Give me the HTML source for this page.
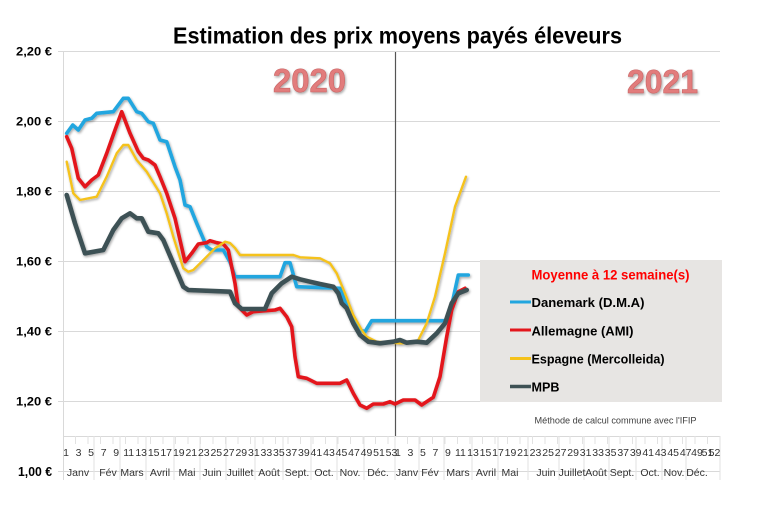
<!DOCTYPE html>
<html>
<head>
<meta charset="utf-8">
<style>
  html, body { margin: 0; padding: 0; background: #ffffff; }
  svg { display: block; }
  text { font-family: "Liberation Sans", sans-serif; }
</style>
</head>
<body>
<svg width="770" height="516" viewBox="0 0 770 516" xmlns="http://www.w3.org/2000/svg">
  <defs>
    <filter id="sh" x="-10%" y="-10%" width="120%" height="130%">
      <feGaussianBlur in="SourceAlpha" stdDeviation="1.2"/>
      <feOffset dx="1" dy="1.5" result="o"/>
      <feComponentTransfer><feFuncA type="linear" slope="0.35"/></feComponentTransfer>
      <feMerge><feMergeNode/><feMergeNode in="SourceGraphic"/></feMerge>
    </filter>
  </defs>
  <rect x="0" y="0" width="770" height="516" fill="#ffffff"/>

  <!-- Title -->
  <text x="173" y="43.5" font-size="23" font-weight="bold" fill="#000" textLength="449" lengthAdjust="spacingAndGlyphs">Estimation des prix moyens payés éleveurs</text>

  <!-- gridlines -->
  <g stroke="#d9d9d9" stroke-width="1">
    <line x1="58" y1="51.5" x2="720" y2="51.5"/>
    <line x1="58" y1="121.5" x2="720" y2="121.5"/>
    <line x1="58" y1="191.5" x2="720" y2="191.5"/>
    <line x1="58" y1="261.5" x2="720" y2="261.5"/>
    <line x1="58" y1="331.5" x2="720" y2="331.5"/>
    <line x1="58" y1="401.5" x2="720" y2="401.5"/>
    <line x1="58" y1="471.5" x2="720" y2="471.5"/>
    <line x1="63.5" y1="51" x2="63.5" y2="480"/>
    <line x1="63" y1="436.5" x2="720" y2="436.5"/>
  </g>

  <!-- axis ticks area -->
  <g stroke="#e2e2e2" stroke-width="1">
    <line x1="75.5" y1="436" x2="75.5" y2="444"/><line x1="88" y1="436" x2="88" y2="444"/>
    <line x1="100.5" y1="436" x2="100.5" y2="444"/><line x1="113" y1="436" x2="113" y2="444"/>
    <line x1="125.5" y1="436" x2="125.5" y2="444"/><line x1="138" y1="436" x2="138" y2="444"/>
    <line x1="150.5" y1="436" x2="150.5" y2="444"/><line x1="163" y1="436" x2="163" y2="444"/>
    <line x1="175.5" y1="436" x2="175.5" y2="444"/><line x1="188" y1="436" x2="188" y2="444"/>
    <line x1="200.5" y1="436" x2="200.5" y2="444"/><line x1="213" y1="436" x2="213" y2="444"/>
    <line x1="225.5" y1="436" x2="225.5" y2="444"/><line x1="238" y1="436" x2="238" y2="444"/>
    <line x1="250.5" y1="436" x2="250.5" y2="444"/><line x1="263" y1="436" x2="263" y2="444"/>
    <line x1="275.5" y1="436" x2="275.5" y2="444"/><line x1="288" y1="436" x2="288" y2="444"/>
    <line x1="300.5" y1="436" x2="300.5" y2="444"/><line x1="313" y1="436" x2="313" y2="444"/>
    <line x1="325.5" y1="436" x2="325.5" y2="444"/><line x1="338" y1="436" x2="338" y2="444"/>
    <line x1="350.5" y1="436" x2="350.5" y2="444"/><line x1="363" y1="436" x2="363" y2="444"/>
    <line x1="375.5" y1="436" x2="375.5" y2="444"/><line x1="388" y1="436" x2="388" y2="444"/>
    <line x1="407.5" y1="436" x2="407.5" y2="444"/><line x1="420" y1="436" x2="420" y2="444"/>
    <line x1="432.5" y1="436" x2="432.5" y2="444"/><line x1="445" y1="436" x2="445" y2="444"/>
    <line x1="457.5" y1="436" x2="457.5" y2="444"/><line x1="470" y1="436" x2="470" y2="444"/>
    <line x1="482.5" y1="436" x2="482.5" y2="444"/><line x1="495" y1="436" x2="495" y2="444"/>
    <line x1="507.5" y1="436" x2="507.5" y2="444"/><line x1="520" y1="436" x2="520" y2="444"/>
    <line x1="532.5" y1="436" x2="532.5" y2="444"/><line x1="545" y1="436" x2="545" y2="444"/>
    <line x1="557.5" y1="436" x2="557.5" y2="444"/><line x1="570" y1="436" x2="570" y2="444"/>
    <line x1="582.5" y1="436" x2="582.5" y2="444"/><line x1="595" y1="436" x2="595" y2="444"/>
    <line x1="607.5" y1="436" x2="607.5" y2="444"/><line x1="620" y1="436" x2="620" y2="444"/>
    <line x1="632.5" y1="436" x2="632.5" y2="444"/><line x1="645" y1="436" x2="645" y2="444"/>
    <line x1="657.5" y1="436" x2="657.5" y2="444"/><line x1="670" y1="436" x2="670" y2="444"/>
    <line x1="682.5" y1="436" x2="682.5" y2="444"/><line x1="695" y1="436" x2="695" y2="444"/>
    <line x1="707.5" y1="436" x2="707.5" y2="444"/>
    <line x1="94" y1="436" x2="94" y2="480"/><line x1="120" y1="436" x2="120" y2="480"/>
    <line x1="146" y1="436" x2="146" y2="480"/><line x1="174" y1="436" x2="174" y2="480"/>
    <line x1="200" y1="436" x2="200" y2="480"/><line x1="226" y1="436" x2="226" y2="480"/>
    <line x1="255" y1="436" x2="255" y2="480"/><line x1="283" y1="436" x2="283" y2="480"/>
    <line x1="311" y1="436" x2="311" y2="480"/><line x1="337" y1="436" x2="337" y2="480"/>
    <line x1="364" y1="436" x2="364" y2="480"/><line x1="395" y1="436" x2="395" y2="480"/>
    <line x1="419" y1="436" x2="419" y2="480"/><line x1="444" y1="436" x2="444" y2="480"/>
    <line x1="472" y1="436" x2="472" y2="480"/><line x1="498" y1="436" x2="498" y2="480"/>
    <line x1="528" y1="436" x2="528" y2="480"/><line x1="559" y1="436" x2="559" y2="480"/>
    <line x1="584" y1="436" x2="584" y2="480"/><line x1="609" y1="436" x2="609" y2="480"/>
    <line x1="636" y1="436" x2="636" y2="480"/><line x1="662" y1="436" x2="662" y2="480"/>
    <line x1="686" y1="436" x2="686" y2="480"/><line x1="720" y1="436" x2="720" y2="480"/>
  </g>

  <!-- Y labels -->
  <g font-size="12" font-weight="bold" fill="#000">
    <text x="16" y="55.5" textLength="36" lengthAdjust="spacingAndGlyphs">2,20 €</text>
    <text x="16" y="125.5" textLength="36" lengthAdjust="spacingAndGlyphs">2,00 €</text>
    <text x="16" y="195.5" textLength="36" lengthAdjust="spacingAndGlyphs">1,80 €</text>
    <text x="16" y="265.5" textLength="36" lengthAdjust="spacingAndGlyphs">1,60 €</text>
    <text x="16" y="335.5" textLength="36" lengthAdjust="spacingAndGlyphs">1,40 €</text>
    <text x="16" y="405.5" textLength="36" lengthAdjust="spacingAndGlyphs">1,20 €</text>
    <text x="18" y="476" font-size="13" textLength="34" lengthAdjust="spacingAndGlyphs">1,00 €</text>
  </g>

  <!-- Week labels -->
  <g font-size="10.5" fill="#333" text-anchor="middle">
    <text x="66.1" y="456">1</text><text x="78.6" y="456">3</text><text x="91.1" y="456">5</text>
    <text x="103.7" y="456">7</text><text x="116.2" y="456">9</text><text x="128.7" y="456">11</text>
    <text x="141.2" y="456">13</text><text x="153.7" y="456">15</text><text x="166.2" y="456">17</text>
    <text x="178.8" y="456">19</text><text x="191.3" y="456">21</text><text x="203.8" y="456">23</text>
    <text x="216.3" y="456">25</text><text x="228.8" y="456">27</text><text x="241.3" y="456">29</text>
    <text x="253.9" y="456">31</text><text x="266.4" y="456">33</text><text x="278.9" y="456">35</text>
    <text x="291.4" y="456">37</text><text x="303.9" y="456">39</text><text x="316.4" y="456">41</text>
    <text x="329.0" y="456">43</text><text x="341.5" y="456">45</text><text x="354.0" y="456">47</text>
    <text x="366.5" y="456">49</text><text x="379.0" y="456">51</text><text x="391.5" y="456">53</text>
    <text x="397.9" y="456">1</text><text x="410.4" y="456">3</text><text x="422.9" y="456">5</text>
    <text x="435.4" y="456">7</text><text x="447.9" y="456">9</text><text x="460.4" y="456">11</text>
    <text x="473.0" y="456">13</text><text x="485.5" y="456">15</text><text x="498.0" y="456">17</text>
    <text x="510.5" y="456">19</text><text x="523.0" y="456">21</text><text x="535.5" y="456">23</text>
    <text x="548.1" y="456">25</text><text x="560.6" y="456">27</text><text x="573.1" y="456">29</text>
    <text x="585.6" y="456">31</text><text x="598.1" y="456">33</text><text x="610.6" y="456">35</text>
    <text x="623.2" y="456">37</text><text x="635.7" y="456">39</text><text x="648.2" y="456">41</text>
    <text x="660.7" y="456">43</text><text x="673.2" y="456">45</text><text x="685.7" y="456">47</text>
    <text x="697.0" y="456">49</text><text x="707.5" y="456">51</text><text x="714.5" y="456">52</text>
  </g>

  <!-- Month labels -->
  <g font-size="10.5" fill="#333" text-anchor="middle">
    <text x="78" y="476">Janv</text><text x="108" y="476">Fév</text><text x="132" y="476">Mars</text>
    <text x="160" y="476">Avril</text><text x="187" y="476">Mai</text><text x="212" y="476">Juin</text>
    <text x="240" y="476">Juillet</text><text x="269" y="476">Août</text><text x="297" y="476">Sept.</text>
    <text x="324" y="476">Oct.</text><text x="350" y="476">Nov.</text><text x="378" y="476">Déc.</text>
    <text x="407" y="476">Janv</text><text x="430" y="476">Fév</text><text x="458" y="476">Mars</text>
    <text x="486" y="476">Avril</text><text x="510" y="476">Mai</text><text x="546" y="476">Juin</text>
    <text x="572" y="476">Juillet</text><text x="596" y="476">Août</text><text x="622" y="476">Sept.</text>
    <text x="650" y="476">Oct.</text><text x="674" y="476">Nov.</text><text x="697" y="476">Déc.</text>
  </g>

  <!-- Year divider -->
  <line x1="395.5" y1="52" x2="395.5" y2="436" stroke="#555" stroke-width="1.2"/>

  <!-- Year labels -->
  <g font-size="33" font-weight="bold" fill="#e27b7b" stroke="#c86565" stroke-width="0.6" filter="url(#sh)">
    <text x="273" y="92" textLength="73" lengthAdjust="spacingAndGlyphs">2020</text>
    <text x="627" y="93" textLength="71" lengthAdjust="spacingAndGlyphs">2021</text>
  </g>

  <!-- Legend box -->
  <rect x="480" y="260" width="242" height="142" fill="#e7e5e3"/>
  <text x="531.5" y="279.5" font-size="14" font-weight="bold" fill="#ff0000" textLength="158" lengthAdjust="spacingAndGlyphs">Moyenne à  12 semaine(s)</text>
  <g stroke-width="3">
    <line x1="510" y1="302" x2="531" y2="302" stroke="#22a6df"/>
    <line x1="510" y1="330" x2="531" y2="330" stroke="#e3161c"/>
    <line x1="510" y1="358.5" x2="531" y2="358.5" stroke="#f5c21b"/>
    <line x1="510" y1="386.5" x2="531" y2="386.5" stroke="#3e5154" stroke-width="3.5"/>
  </g>
  <g font-size="13" font-weight="bold" fill="#000">
    <text x="531.5" y="307" textLength="113" lengthAdjust="spacingAndGlyphs">Danemark (D.M.A)</text>
    <text x="531.5" y="335.5" textLength="102" lengthAdjust="spacingAndGlyphs">Allemagne (AMI)</text>
    <text x="531.5" y="363.5" textLength="133" lengthAdjust="spacingAndGlyphs">Espagne (Mercolleida)</text>
    <text x="531.5" y="391.5" textLength="28" lengthAdjust="spacingAndGlyphs">MPB</text>
  </g>

  <text x="534.5" y="423.5" font-size="9" fill="#404040" textLength="162" lengthAdjust="spacingAndGlyphs">Méthode de calcul commune avec l'IFIP</text>

  <!-- Series -->
  <g fill="none" stroke-linejoin="round" stroke-linecap="round" filter="url(#sh)">
    <polyline stroke="#22a6df" stroke-width="3.6" points="66.7,133.3 72.7,125 78.3,130 85,120 91.7,118.3 96.7,113.3 113.3,111.7 123.3,98.3 128.3,98.3 136.7,111.7 141.7,113.3 148.3,121.7 153.3,123.3 160,140 166.7,141.7 175,166.7 180,180 185,205 190,206.7 196.7,223.3 206.7,246.7 211.7,250 223.3,250 230,262 235,276.7 280,276.7 285,262.7 290,262.7 296.7,286.7 340,288.3 348.3,310 360,330 365,331.7 371.7,320.7 448.3,320.7 458.3,275 468.3,275"/>
    <polyline stroke="#e3161c" stroke-width="3.6" points="66.7,136.7 71.7,148.3 78.3,178.3 85,186.7 91.7,180 98.3,175 106.7,153.3 115,130 121.7,111.7 130,133.3 138.3,151.7 143.3,158.3 148.3,160 155,165 160,176.7 166.7,193.3 175,218.3 180,240 185,261.7 191.7,253.3 198.3,244 206.7,242.7 210,240.7 216.7,242.7 223.3,244 228.3,250 235,283.3 238.3,306.7 246.7,315 253.3,311.7 275,310 280,308.3 286.7,316.7 291.7,326.7 295,356.7 298.3,376.7 306.7,378.3 316.7,383.3 340,383.3 346.7,380 353.3,393.3 360,405 366.7,408.3 373.3,404 383.3,404 390,401.7 395,404 403.3,400 415,400 421.7,405 433.3,397.3 440,376.7 446.7,336.7 451.7,310 458.3,291.7 465,288.3"/>
    <polyline stroke="#f5c21b" stroke-width="2.4" points="66.7,161.7 73.3,193.3 80,200 96.7,196.7 106.7,176.7 116.7,153.3 123.3,145 128.3,145 136.7,160 146.7,171.7 160,193.3 166.7,213.3 173.3,236.7 183.3,268.3 188.3,271.7 193.3,270 201.7,261.7 215,248.3 225,241.7 230,243 235,248 240,255 293.3,255 300,257.3 320,258.3 330,263.3 336.7,273.3 345,293.3 353.3,315 361.7,330 366.7,336.7 376.7,341.7 400,343.3 413.3,342.7 418.3,340 426.7,323.3 435,296.7 445,253.3 455,206.7 466,176.7"/>
    <polyline stroke="#3e5154" stroke-width="4.6" points="66.7,195 75,223.3 85,253.3 103.3,250 113.3,230 121.7,218.3 130,213.3 136.7,218.3 141.7,218.3 148.3,231.7 158.3,233.3 163.3,240 173.3,263.3 183.3,286.7 188.3,290 230,291.7 235,303.3 241.7,309 265,309 271.7,293.3 281.7,283.3 291.7,276.7 300,279.3 310,281.7 320,284 333.3,286.7 338.3,293.3 341.7,303.3 346.7,308.3 353.3,323.3 360,335 368.3,341.7 380,343.3 393.3,341.7 400,340 406.7,342.7 416.7,341.7 426.7,342.7 436.7,333.3 445,323.3 451.7,303.3 458.3,293.3 466.7,290"/>
  </g>
</svg>
</body>
</html>
